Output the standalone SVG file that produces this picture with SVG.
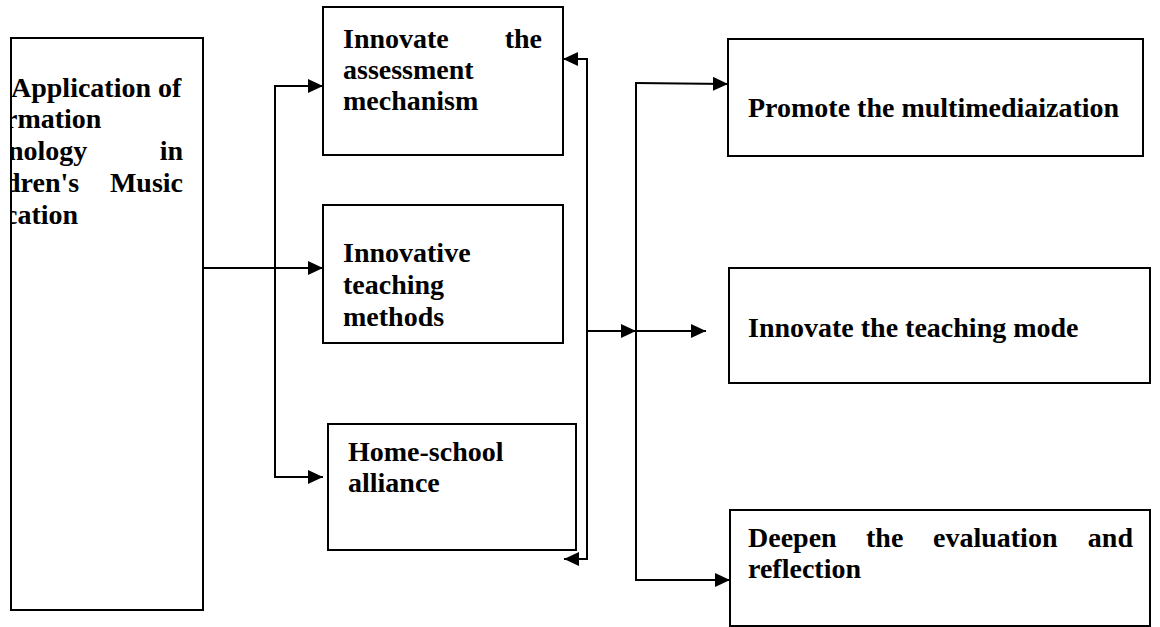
<svg xmlns="http://www.w3.org/2000/svg" width="1160" height="627" viewBox="0 0 1160 627">
<style>
.box{fill:#fff;stroke:#000;stroke-width:2}
.t{font-family:"Liberation Serif","Times New Roman",serif;font-weight:bold;font-size:28px;fill:#000}
.c{fill:none;stroke:#000;stroke-width:2}
</style>
<defs>
<marker id="ah" markerUnits="userSpaceOnUse" markerWidth="16" markerHeight="15" refX="15" refY="7" orient="auto">
<path d="M0,0 L15,7 L0,14 z" fill="#000"/>
</marker>
<clipPath id="clipL"><rect x="12" y="38" width="191" height="572"/></clipPath>
</defs>
<rect width="1160" height="627" fill="#fff"/>
<g id="n-app">
<rect class="box" x="11" y="38" width="192" height="572"/>
<g clip-path="url(#clipL)">
<text class="t" x="11" y="97">Application of</text>
<text class="t" x="5" y="128">rmation</text>
<text class="t" x="8" y="160">nology</text>
<text class="t" x="183" y="160" text-anchor="end">in</text>
<text class="t" x="5" y="192">dren's</text>
<text class="t" x="183" y="192" text-anchor="end">Music</text>
<text class="t" x="5" y="224">cation</text>
</g>
</g>
<g id="n-assess">
<rect class="box" x="323" y="7" width="240" height="148"/>
<text class="t" x="343" y="48">Innovate</text>
<text class="t" x="542" y="48" text-anchor="end">the</text>
<text class="t" x="343" y="79">assessment</text>
<text class="t" x="343" y="110">mechanism</text>
</g>
<g id="n-methods">
<rect class="box" x="323" y="205" width="240" height="138"/>
<text class="t" x="343" y="262">Innovative</text>
<text class="t" x="343" y="294">teaching</text>
<text class="t" x="343" y="326">methods</text>
</g>
<g id="n-home">
<rect class="box" x="328" y="424" width="248" height="126"/>
<text class="t" x="348" y="461">Home-school</text>
<text class="t" x="348" y="492">alliance</text>
</g>
<g id="n-multi">
<rect class="box" x="728" y="39" width="415" height="117"/>
<text class="t" x="748" y="117">Promote the multimediaization</text>
</g>
<g id="n-mode">
<rect class="box" x="729" y="268" width="421" height="115"/>
<text class="t" x="748" y="337">Innovate the teaching mode</text>
</g>
<g id="n-deepen">
<rect class="box" x="730" y="510" width="420" height="116"/>
<text class="t" x="748" y="547">Deepen</text>
<text class="t" x="866" y="547">the</text>
<text class="t" x="933" y="547">evaluation</text>
<text class="t" x="1133" y="547" text-anchor="end">and</text>
<text class="t" x="748" y="578">reflection</text>
</g>
<g id="connectors">
<path class="c" d="M203,268 L323,268" marker-end="url(#ah)"/>
<path class="c" d="M275,86 L275,477"/>
<path class="c" d="M274,86 L323,86" marker-end="url(#ah)"/>
<path class="c" d="M274,477 L323,477" marker-end="url(#ah)"/>
<path class="c" d="M587,59 L587,560"/>
<path class="c" d="M588,59 L563,59" marker-end="url(#ah)"/>
<path class="c" d="M588,559 L564,559" marker-end="url(#ah)"/>
<path class="c" d="M587,331 L636,331" marker-end="url(#ah)"/>
<path class="c" d="M636,331 L706,331" marker-end="url(#ah)"/>
<path class="c" d="M636,83 L636,581"/>
<path class="c" d="M635,83 L728,84" marker-end="url(#ah)"/>
<path class="c" d="M635,580 L730,580" marker-end="url(#ah)"/>
</g>
</svg>
